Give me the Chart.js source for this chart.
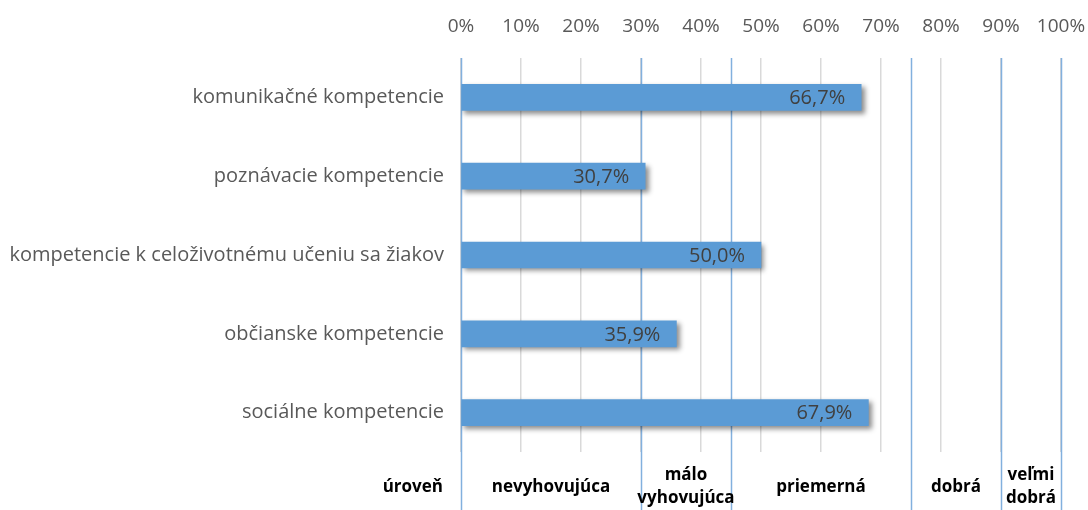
<!DOCTYPE html>
<html>
<head>
<meta charset="utf-8">
<script src="https://cdn.jsdelivr.net/npm/chart.js@4/dist/chart.umd.min.js"></script>
<style>
  html, body { margin: 0; padding: 0; background: #fff; }
  #wrap { width: 1088px; height: 510px; position: relative; }
</style>
</head>
<body>
<div id="wrap"><canvas id="chart"></canvas></div>
<script>
// categories and values (percent)
const categories = [
  'komunikačné kompetencie',
  'poznávacie kompetencie',
  'kompetencie k celoživotnému učeniu sa žiakov',
  'občianske kompetencie',
  'sociálne kompetencie'
];
const values = [66.7, 30.7, 50.0, 35.9, 67.9];

// level boundaries and names (bottom row)
const levelBounds = [0, 30, 45, 75, 90, 100];
const levelNames = [['nevyhovujúca'], ['málo', 'vyhovujúca'], ['priemerná'], ['dobrá'], ['veľmi', 'dobrá']];
const levelTitle = 'úroveň';

const FONT = '"Open Sans", "Noto Sans", sans-serif';

const fmt = v => v.toFixed(1).replace('.', ',') + '%';

// drop shadow under the bars
const barShadow = {
  id: 'barShadow',
  beforeDatasetsDraw(chart) {
    const ctx = chart.ctx;
    ctx.save();
    ctx.shadowColor = 'rgba(0,0,0,0.45)';
    ctx.shadowBlur = 5;
    ctx.shadowOffsetX = 3;
    ctx.shadowOffsetY = 3;
  },
  afterDatasetsDraw(chart) {
    chart.ctx.restore();
  }
};

// level lines + bottom labels
const levels = {
  id: 'levels',
  beforeDatasetsDraw(chart) {
    const ctx = chart.ctx, x = chart.scales.x, area = chart.chartArea;
    ctx.save();
    ctx.strokeStyle = '#82b0de';
    ctx.lineWidth = 1.5;
    levelBounds.forEach(b => {
      const px = Math.round(x.getPixelForValue(b)) + 0.5;
      ctx.beginPath();
      ctx.moveTo(px, area.top);
      ctx.lineTo(px, chart.height);
      ctx.stroke();
    });
    ctx.restore();
  },
  afterDraw(chart) {
    const ctx = chart.ctx, x = chart.scales.x, area = chart.chartArea;
    ctx.save();
    ctx.fillStyle = '#000';
    ctx.font = 'bold 17px ' + FONT;
    ctx.textBaseline = 'middle';
    const midY = area.bottom + 35;
    ctx.textAlign = 'right';
    ctx.fillText(levelTitle, area.left - 18, midY);
    ctx.textAlign = 'center';
    levelNames.forEach((lines, i) => {
      const cx = (x.getPixelForValue(levelBounds[i]) + x.getPixelForValue(levelBounds[i + 1])) / 2;
      const lh = 23;
      const y0 = midY - (lines.length - 1) * lh / 2;
      lines.forEach((t, j) => ctx.fillText(t, cx, y0 + j * lh));
    });
    ctx.restore();
  }
};

// value labels inside bar end
const valueLabels = {
  id: 'valueLabels',
  afterDatasetsDraw(chart) {
    const ctx = chart.ctx;
    const meta = chart.getDatasetMeta(0);
    ctx.save();
    ctx.fillStyle = '#404040';
    ctx.font = '20px ' + FONT;
    ctx.textAlign = 'right';
    ctx.textBaseline = 'middle';
    meta.data.forEach((bar, i) => {
      ctx.fillText(fmt(values[i]), bar.x - 16, bar.y + 1);
    });
    ctx.restore();
  }
};

new Chart(document.getElementById('chart'), {
  type: 'bar',
  data: {
    labels: categories,
    datasets: [{
      data: values,
      backgroundColor: '#5b9bd5',
      borderWidth: 0,
      barThickness: 26
    }]
  },
  options: {
    indexAxis: 'y',
    responsive: true,
    maintainAspectRatio: false,
    animation: false,
    layout: { padding: { left: 0, right: 27, top: 0, bottom: 58 } },
    plugins: { legend: { display: false }, tooltip: { enabled: false } },
    scales: {
      x: {
        position: 'top',
        min: 0,
        max: 100,
        ticks: {
          stepSize: 10,
          callback: v => v + '%',
          color: '#595959',
          font: { family: FONT, size: 19 },
          padding: 20,
          maxRotation: 0
        },
        grid: { color: '#d9d9d9', lineWidth: 1.5, drawTicks: false },
        border: { display: false },
        afterFit: s => { s.height = 58; s.paddingLeft = 0; s.paddingRight = 0; }
      },
      y: {
        ticks: {
          color: '#595959',
          font: { family: FONT, size: 20 },
          padding: 9
        },
        grid: { display: false },
        border: { display: false },
        afterFit: s => { s.width = 461; }
      }
    }
  },
  plugins: [levels, barShadow, valueLabels]
});
</script>
</body>
</html>
